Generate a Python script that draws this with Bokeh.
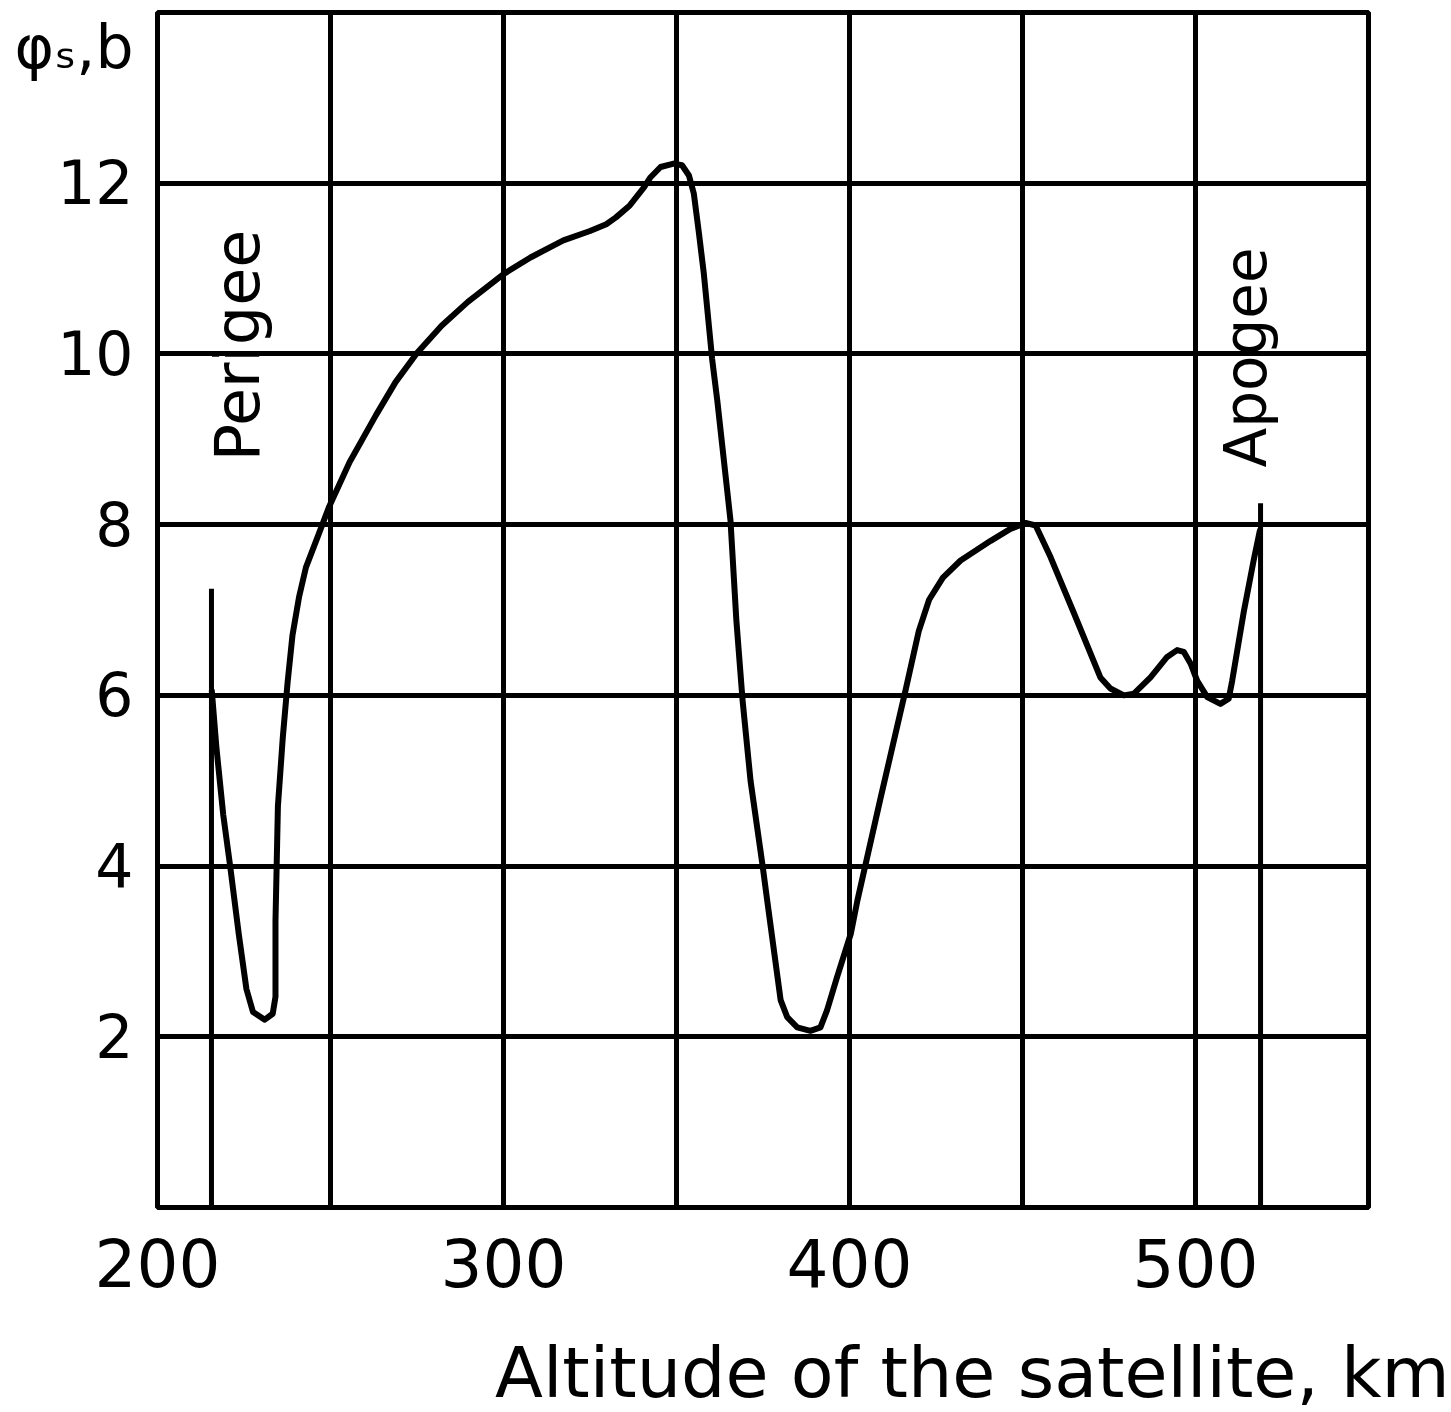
from bokeh.plotting import figure
from bokeh.models import FixedTicker, Label, LinearAxis
from bokeh.embed import file_html
from bokeh.resources import INLINE
import math

# ---- data ----
altitude_km = [215.7, 217.0, 219.0, 221.0, 223.5, 225.7, 227.6, 231.0, 233.3, 234.1,
               234.1, 234.8, 236.2, 237.6, 239.0, 240.9, 242.9, 246.7, 249.5, 255.5,
               263.1, 268.8, 275.0, 282.1, 289.7, 300.2, 307.8, 317.3, 325.0, 329.7,
               332.5, 336.5, 340.6, 342.5, 345.4, 349.2, 351.6, 353.6, 355.0, 356.5,
               357.9, 360.3, 361.8, 365.6, 367.3, 369.1, 371.4, 374.9, 376.2, 380.1,
               382.0, 384.9, 388.7, 391.6, 393.5, 396.4, 400.4, 402.3, 409.0, 416.2,
               420.0, 423.0, 427.0, 432.1, 440.8, 446.5, 450.9, 453.8, 455.2, 458.1,
               465.0, 472.5, 475.4, 479.3, 482.2, 487.0, 491.8, 494.7, 496.6, 498.6,
               500.5, 503.4, 507.2, 509.6, 510.6, 514.0, 516.8, 518.6]
phi_s = [6.05, 5.40, 4.60, 4.00, 3.20, 2.56, 2.29, 2.20, 2.27, 2.47,
         3.36, 4.70, 5.50, 6.15, 6.70, 7.15, 7.50, 7.90, 8.20, 8.73,
         9.28, 9.67, 10.01, 10.33, 10.61, 10.94, 11.13, 11.33, 11.44, 11.52,
         11.60, 11.74, 11.95, 12.07, 12.19, 12.23, 12.21, 12.09, 11.88, 11.41,
         10.94, 9.94, 9.45, 8.05, 6.88, 5.94, 5.00, 4.00, 3.60, 2.43,
         2.23, 2.11, 2.07, 2.11, 2.31, 2.70, 3.21, 3.60, 4.80, 6.06,
         6.75, 7.12, 7.38, 7.58, 7.81, 7.95, 8.02, 7.99, 7.87, 7.62,
         6.95, 6.21, 6.08, 6.00, 6.02, 6.21, 6.45, 6.53, 6.51, 6.37,
         6.17, 5.98, 5.90, 5.96, 6.17, 6.99, 7.58, 7.93]

perigee_km = 215.6
perigee_top = 7.25
apogee_km = 518.8
apogee_top = 8.25

x_tick_labels = [200, 300, 400, 500]
x_grid = [250, 300, 350, 400, 450, 500]
y_ticks = [2, 4, 6, 8, 10, 12]
y_title = "φₛ,b"
x_title = "Altitude of the satellite, km"

FONT = "DejaVu Sans"

p = figure(frame_width=1211, frame_height=1195, x_range=(200, 550), y_range=(0, 14),
           output_backend="svg", toolbar_location=None,
           min_border_left=157, min_border_right=83, min_border_top=12, min_border_bottom=205)
p.background_fill_color = "white"
p.border_fill_color = "white"
p.outline_line_color = "black"
p.outline_line_width = 5

# y axis: numeric ticks plus the quantity symbol written as the top "tick"
y_title_pos = 13.6
p.yaxis.ticker = FixedTicker(ticks=y_ticks + [y_title_pos])
p.yaxis.major_label_overrides = {y_title_pos: y_title}
p.xaxis.ticker = FixedTicker(ticks=x_tick_labels)

# second x axis carrying the axis title, placed below the tick labels
x_title_pos = 435.5
ax2 = LinearAxis(ticker=FixedTicker(ticks=[x_title_pos]),
                 major_label_overrides={x_title_pos: x_title})
p.add_layout(ax2, "below")

for ax in (p.xaxis[0], p.yaxis[0], ax2):
    ax.axis_line_color = None
    ax.major_tick_line_color = None
    ax.minor_tick_line_color = None
    ax.major_tick_out = 0
    ax.major_tick_in = 0
    ax.minor_tick_out = 0
    ax.major_label_text_font = FONT
    ax.major_label_text_color = "black"
p.xaxis[0].major_label_text_font_size = "66px"
p.xaxis[0].major_label_standoff = 30
ax2.major_label_text_font_size = "70px"
ax2.major_label_standoff = 42
p.yaxis.major_label_text_font_size = "60px"
p.yaxis.major_label_standoff = 24

p.xgrid.ticker = FixedTicker(ticks=x_grid)
p.ygrid.ticker = FixedTicker(ticks=y_ticks)
for g in (p.xgrid[0], p.ygrid[0]):
    g.grid_line_color = "black"
    g.grid_line_width = 5
    g.grid_line_alpha = 1.0

# perigee / apogee markers
p.segment(x0=[perigee_km, apogee_km], y0=[0, 0], x1=[perigee_km, apogee_km],
          y1=[perigee_top, apogee_top], line_color="black", line_width=5)

# curve
p.line(altitude_km, phi_s, line_color="black", line_width=6, line_join="round", line_cap="round")

# rotated labels
p.add_layout(Label(x=223.2, y=10.10, text="Perigee", angle=math.pi / 2,
                   text_align="center", text_baseline="alphabetic",
                   text_font=FONT, text_font_size="62px", text_color="black"))
p.add_layout(Label(x=514.5, y=9.96, text="Apogee", angle=math.pi / 2,
                   text_align="center", text_baseline="alphabetic",
                   text_font=FONT, text_font_size="58px", text_color="black"))

open("out.html", "w").write(file_html(p, INLINE))
